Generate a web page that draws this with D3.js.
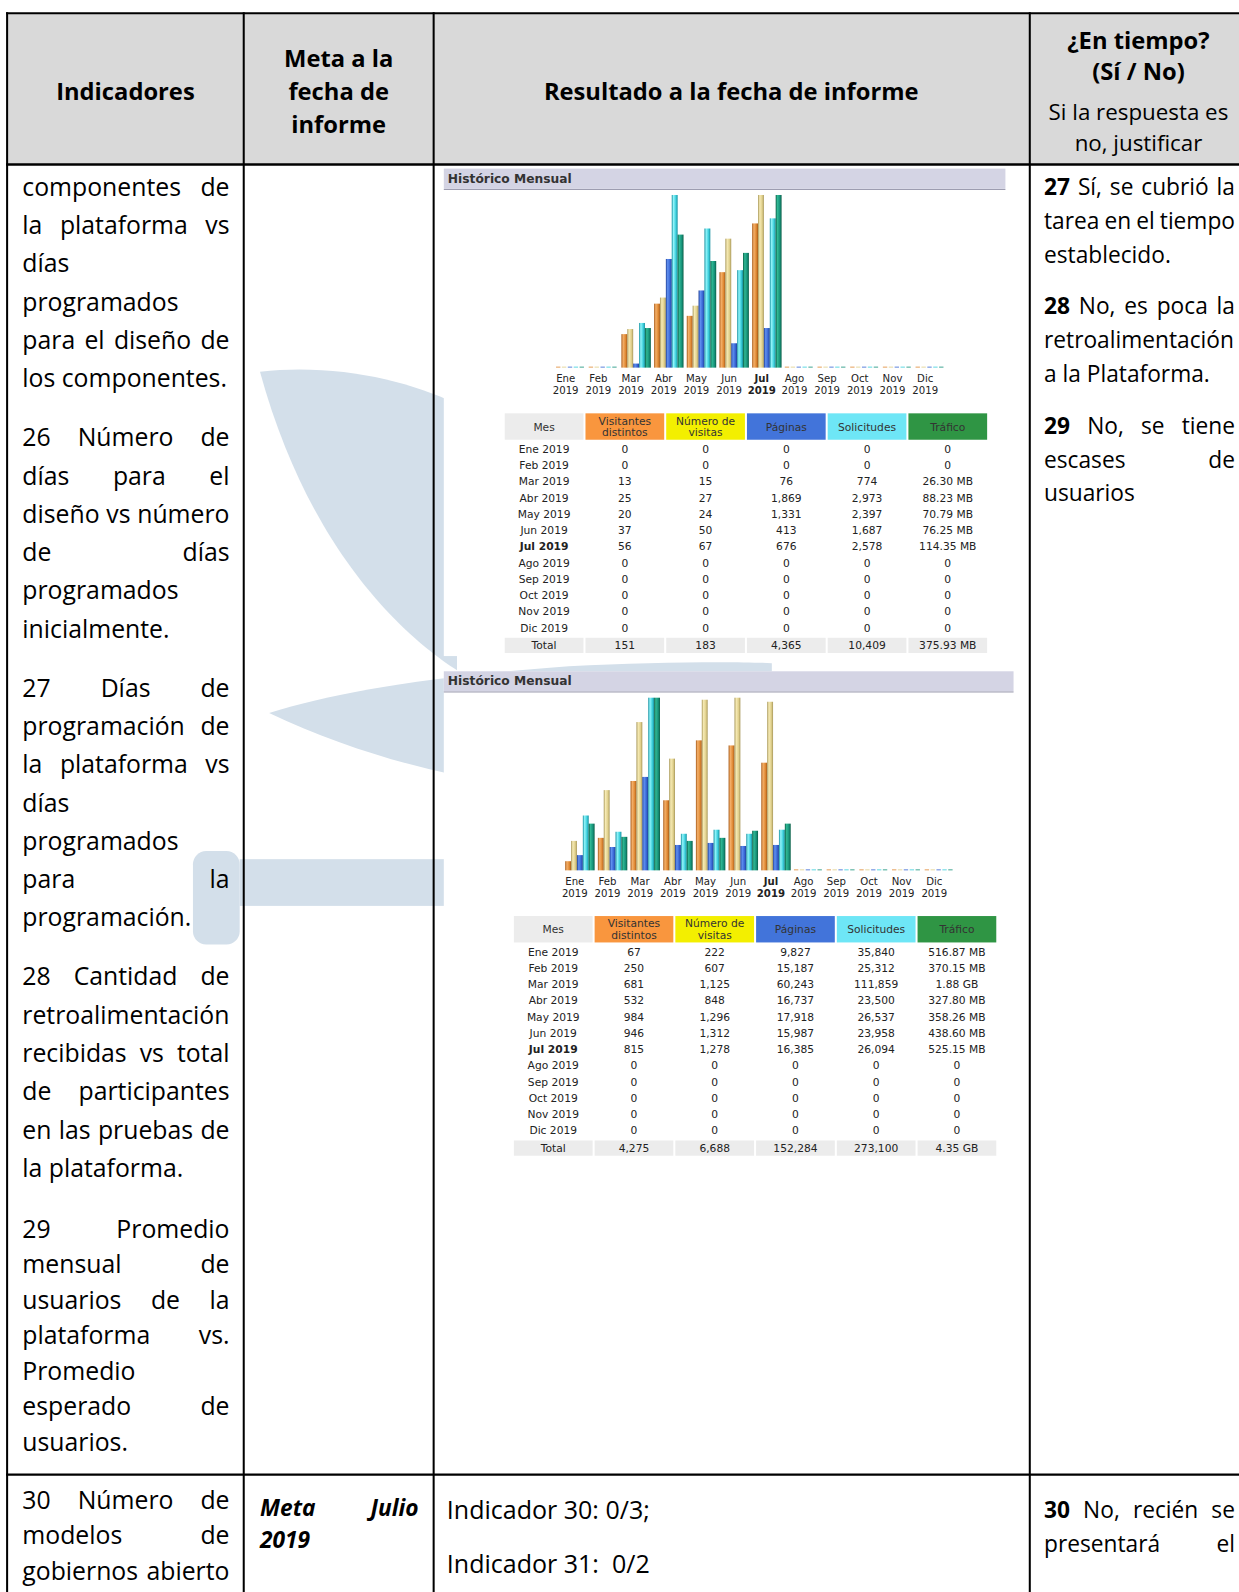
<!DOCTYPE html>
<html>
<head>
<meta charset="utf-8">
<script src="https://cdn.jsdelivr.net/npm/d3@7"></script>
<style>
  html, body { margin: 0; padding: 0; background: #fff; overflow: hidden; width: 1239px; height: 1592px; }
  svg { display: block; }
</style>
</head>
<body>
<svg id="page" width="1239" height="1592"></svg>
<script>
const months = ["Ene", "Feb", "Mar", "Abr", "May", "Jun", "Jul", "Ago", "Sep", "Oct", "Nov", "Dic"];
const year = "2019";
const currentMonth = "Jul";

// chart 1
const visitantes1  = [0, 0, 13, 25, 20, 37, 56, 0, 0, 0, 0, 0];
const visitas1     = [0, 0, 15, 27, 24, 50, 67, 0, 0, 0, 0, 0];
const paginas1     = [0, 0, 76, 1869, 1331, 413, 676, 0, 0, 0, 0, 0];
const solicitudes1 = [0, 0, 774, 2973, 2397, 1687, 2578, 0, 0, 0, 0, 0];
const trafico1     = [0, 0, 26.30, 88.23, 70.79, 76.25, 114.35, 0, 0, 0, 0, 0]; // MB
const totales1     = ["151", "183", "4,365", "10,409", "375.93 MB"];

// chart 2
const visitantes2  = [67, 250, 681, 532, 984, 946, 815, 0, 0, 0, 0, 0];
const visitas2     = [222, 607, 1125, 848, 1296, 1312, 1278, 0, 0, 0, 0, 0];
const paginas2     = [9827, 15187, 60243, 16737, 17918, 15987, 16385, 0, 0, 0, 0, 0];
const solicitudes2 = [35840, 25312, 111859, 23500, 26537, 23958, 26094, 0, 0, 0, 0, 0];
const trafico2     = [516.87, 370.15, 1925.12, 327.80, 358.26, 438.60, 525.15, 0, 0, 0, 0, 0]; // MB
const totales2     = ["4,275", "6,688", "152,284", "273,100", "4.35 GB"];

const seriesKeys = ["visitantes", "visitas", "paginas", "solicitudes", "trafico"];
const seriesHeads = [["Visitantes", "distintos"], ["Número de", "visitas"], ["Páginas"], ["Solicitudes"], ["Tráfico"]];

// ---- document text ----
const headCols = [
  { lines: ["Indicadores"] },
  { lines: ["Meta a la", "fecha de", "informe"] },
  { lines: ["Resultado a la fecha de informe"] }
];
const indicadores = [
  ["componentes de", "la plataforma vs", "días", "programados", "para el diseño de", "los componentes."],
  ["26 Número de", "días para el", "diseño vs número", "de días", "programados", "inicialmente."],
  ["27 Días de", "programación de", "la plataforma vs", "días", "programados", "para la", "programación."],
  ["28 Cantidad de", "retroalimentación", "recibidas vs total", "de participantes", "en las pruebas de", "la plataforma."]
];
const indicador29 = ["29 Promedio", "mensual de", "usuarios de la", "plataforma vs.", "Promedio", "esperado de", "usuarios."];
const respuestas = [
  ["**27** Sí, se cubrió la", "tarea en el tiempo", "establecido."],
  ["**28** No, es poca la", "retroalimentación", "a la Plataforma."],
  ["**29** No, se tiene", "escases de", "usuarios"]
];
const indicador30 = ["30 Número de", "modelos de", "gobiernos abierto"];
const meta30 = ["Meta Julio", "2019"];
const resultado30 = ["Indicador 30: 0/3;", "Indicador 31:  0/2"];
const respuesta30 = ["**30** No, recién se", "presentará el"];

const DOC = '"Open Sans", "Noto Sans", sans-serif';
const AW = '"DejaVu Sans", Verdana, sans-serif';

// layout below is measured on a 1220-wide copy of the page, so scale it up to 1239
const PAGE_SCALE = 1239 / 1220;

const root = d3.select("#page");
const meas = root.append("text").attr("visibility", "hidden");
const svg = root.append("g").attr("transform", `scale(${PAGE_SCALE})`);

function textW(str, font, size, weight, style) {
  meas.attr("font-family", font).attr("font-size", size)
    .attr("font-weight", weight || "normal").attr("font-style", style || "normal")
    .text(str);
  return meas.node().getComputedTextLength();
}
function fit(str, font, target, weight, style) {
  return 100 * target / textW(str, font, 100, weight, style);
}

// ---- page table: header + watermark ----
const colX = [7, 240, 427, 1014, 1230];
const headTop = 13, headBot = 162, row2 = 1452;

svg.append("rect").attr("x", colX[0]).attr("y", headTop)
  .attr("width", colX[4] - colX[0]).attr("height", headBot - headTop).attr("fill", "#d9d9d9");

const wm = svg.append("g").attr("fill", "#d3dfea");
wm.append("path").attr("d", "M256,366 C330,358 400,374 450,398 L450,660 C400,628 305,545 256,366 Z");
wm.append("path").attr("d", "M265,702 C330,682 420,666 560,656 C640,652 720,651 760,653 L760,790 C600,790 430,780 265,702 Z");
wm.append("rect").attr("x", 236).attr("y", 846).attr("width", 220).attr("height", 46);
wm.append("rect").attr("x", 190).attr("y", 838).attr("width", 46).attr("height", 92).attr("rx", 13);

// ---- AWStats style monthly history panels ----
const charts = [
  { x: 437, y: 166, w: 553, h: 480, dx: 0,
    series: { visitantes: visitantes1, visitas: visitas1, paginas: paginas1, solicitudes: solicitudes1, trafico: trafico1 },
    totals: totales1 },
  { x: 437, y: 661, w: 561, h: 482, dx: 9,
    series: { visitantes: visitantes2, visitas: visitas2, paginas: paginas2, solicitudes: solicitudes2, trafico: trafico2 },
    totals: totales2 }
];

const barColors = {
  visitantes:  ["#a85a18", "#f4b06a", "#e08a34"],
  visitas:     ["#a8985a", "#f6eab4", "#e0d08c"],
  paginas:     ["#1f3f98", "#6090f0", "#3866d4"],
  solicitudes: ["#1690a0", "#90f4fa", "#3ccfdc"],
  trafico:     ["#0a5e46", "#30b894", "#16927a"]
};
const headFill = { Mes: "#ececec", visitantes: "#f9963e", visitas: "#f3ef00", paginas: "#4274da", solicitudes: "#6ee6f6", trafico: "#2f9544" };

const defs = root.append("defs");
seriesKeys.forEach(k => {
  const gr = defs.append("linearGradient").attr("id", "g-" + k).attr("x1", 0).attr("x2", 1).attr("y1", 0).attr("y2", 0);
  gr.append("stop").attr("offset", 0).attr("stop-color", barColors[k][0]);
  gr.append("stop").attr("offset", 0.3).attr("stop-color", barColors[k][1]);
  gr.append("stop").attr("offset", 0.7).attr("stop-color", barColors[k][2]);
  gr.append("stop").attr("offset", 1).attr("stop-color", barColors[k][0]);
});

const fmtInt = d3.format(",");
function fmtMB(v) {
  if (v === 0) return "0";
  return v >= 1024 ? (v / 1024).toFixed(2) + " GB" : v.toFixed(2) + " MB";
}

const awTitle = fit("Histórico Mensual", AW, 122, "bold");
const awCell = fit("Ene 2019", AW, 50);
const awLabel = 10;

charts.forEach(c => {
  const g = svg.append("g").attr("transform", `translate(${c.x},${c.y})`).attr("font-family", AW);
  g.append("rect").attr("width", c.w).attr("height", c.h).attr("fill", "#fff");

  // title bar
  g.append("rect").attr("width", c.w).attr("height", 20).attr("fill", "#d4d4e4");
  g.append("line").attr("x1", 0).attr("x2", c.w).attr("y1", 20.5).attr("y2", 20.5).attr("stroke", "#9d9db0");
  g.append("text").attr("x", 4).attr("y", 14).attr("font-weight", "bold")
    .attr("font-size", awTitle).attr("fill", "#333").text("Histórico Mensual");

  // bars
  const base = 196, H = 170;
  const x = d3.scalePoint().domain(months).range([120 + c.dx, 474 + c.dx]);
  const sub = d3.scaleBand().domain(seriesKeys).range([-9.5, 19.5]);
  const yv = d3.scaleLinear().domain([0, d3.max(c.series.visitas)]).range([0, H]);
  const yh = d3.scaleLinear().domain([0, d3.max(c.series.solicitudes)]).range([0, H]);
  const yb = d3.scaleLinear().domain([0, d3.max(c.series.trafico)]).range([0, H]);
  const yFor = { visitantes: yv, visitas: yv, paginas: yh, solicitudes: yh, trafico: yb };

  const bars = months.flatMap((m, i) => seriesKeys.map(k => ({ m, k, v: c.series[k][i] })));
  g.append("g").selectAll("rect").data(bars).join("rect")
    .attr("x", d => x(d.m) + sub(d.k))
    .attr("width", d => d.v === 0 ? sub.bandwidth() - 1.5 : sub.bandwidth())
    .attr("height", d => Math.max(1, Math.round(yFor[d.k](d.v))))
    .attr("y", d => base - Math.max(1, Math.round(yFor[d.k](d.v))))
    .attr("fill", d => d.v === 0 ? barColors[d.k][2] : `url(#g-${d.k})`)
    .attr("opacity", d => d.v === 0 ? 0.8 : 1);

  const lab = g.append("g").attr("font-size", awLabel).attr("fill", "#222").attr("text-anchor", "middle");
  lab.selectAll("g").data(months).join("g")
    .attr("transform", d => `translate(${x(d)},0)`)
    .attr("font-weight", d => d === currentMonth ? "bold" : "normal")
    .each(function (d) {
      d3.select(this).append("text").attr("y", 210).text(d);
      d3.select(this).append("text").attr("y", 222).text(year);
    });

  // data table
  const cols = ["Mes", ...seriesKeys];
  const cx = d3.scaleBand().domain(cols).range([60 + c.dx, 535 + c.dx]).paddingInner(0.025);
  const head = g.append("g").attr("font-size", awCell).attr("fill", "#333").attr("text-anchor", "middle");
  head.selectAll("rect").data(cols).join("rect")
    .attr("x", d => cx(d)).attr("y", 241).attr("width", cx.bandwidth()).attr("height", 26)
    .attr("fill", d => headFill[d]);
  const headLines = { Mes: ["Mes"] };
  seriesKeys.forEach((k, i) => headLines[k] = seriesHeads[i]);
  cols.forEach(k => {
    const ls = headLines[k];
    ls.forEach((t, i) => {
      head.append("text").attr("x", cx(k) + cx.bandwidth() / 2)
        .attr("y", ls.length === 1 ? 258 : 252 + i * 11.5).text(t);
    });
  });

  const rowY = i => 280 + 16 * i;
  const body = g.append("g").attr("font-size", awCell).attr("fill", "#222").attr("text-anchor", "middle");
  months.forEach((m, i) => {
    const row = body.append("g").attr("font-weight", m === currentMonth ? "bold" : "normal");
    row.append("text").attr("x", cx("Mes") + cx.bandwidth() / 2).attr("y", rowY(i)).text(`${m} ${year}`);
    seriesKeys.forEach(k => {
      const v = c.series[k][i];
      body.append("text").attr("x", cx(k) + cx.bandwidth() / 2).attr("y", rowY(i))
        .text(k === "trafico" ? fmtMB(v) : fmtInt(v));
    });
  });
  const tot = g.append("g").attr("font-size", awCell).attr("fill", "#222").attr("text-anchor", "middle");
  tot.selectAll("rect").data(cols).join("rect")
    .attr("x", d => cx(d)).attr("y", 462).attr("width", cx.bandwidth()).attr("height", 15)
    .attr("fill", "#ececec");
  tot.selectAll("text").data(["Total", ...c.totals]).join("text")
    .attr("x", (d, i) => cx(cols[i]) + cx.bandwidth() / 2).attr("y", 473).text(d => d);
});

// ---- grid lines ----
const grid = svg.append("g").attr("stroke", "#000");
[headTop, headBot, row2].forEach((y, i) => {
  grid.append("line").attr("x1", colX[0] - 1).attr("x2", colX[4]).attr("y1", y).attr("y2", y)
    .attr("stroke-width", i === 1 ? 2.5 : 2);
});
colX.slice(0, 4).forEach(x => {
  grid.append("line").attr("x1", x).attr("x2", x).attr("y1", headTop - 1).attr("y2", 1580).attr("stroke-width", 2);
});

// ---- text helpers ----
function parseWords(line) {
  return line.split(" ").map(w => {
    const b = /^\*\*(.*)\*\*$/.exec(w);
    return b ? { t: b[1], bold: true } : { t: w, bold: false };
  });
}
function drawLine(g, line, x0, x1, y, size, justify, opt) {
  const weight = opt.weight || "normal", style = opt.style || "normal";
  const words = parseWords(line);
  if (justify && words.length > 1) {
    const ws = words.map(w => textW(w.t, DOC, size, w.bold ? "bold" : weight, style));
    const gap = (x1 - x0 - d3.sum(ws)) / (words.length - 1);
    let x = x0;
    words.forEach((w, i) => {
      g.append("text").attr("x", x).attr("y", y).attr("font-size", size)
        .attr("font-weight", w.bold ? "bold" : weight).attr("font-style", style).text(w.t);
      x += ws[i] + gap;
    });
  } else {
    const t = g.append("text").attr("x", x0).attr("y", y).attr("font-size", size)
      .attr("font-weight", weight).attr("font-style", style).style("white-space", "pre");
    words.forEach((w, i) => {
      t.append("tspan").attr("font-weight", w.bold ? "bold" : null).text((i ? " " : "") + w.t);
    });
  }
}
// paragraphs: y0 is the visual centre of the first line
function drawParas(g, paras, x0, x1, y0, lh, gap, size, opt) {
  opt = opt || {};
  let y = y0;
  paras.forEach(lines => {
    lines.forEach((ln, i) => {
      const last = i === lines.length - 1 && !opt.open;
      drawLine(g, ln, x0, x1, y + size * 0.36, size, !last, opt);
      y += lh;
    });
    y += gap;
  });
  return y;
}

const txt = svg.append("g").attr("font-family", DOC).attr("fill", "#000");

// header
const fHead = fit("Resultado a la fecha de informe", DOC, 369, "bold");
const fHeadR = fit("Si la respuesta es", DOC, 177);
const centers = [123.5, 333.5, 720];
headCols.forEach((h, i) => {
  const n = h.lines.length;
  h.lines.forEach((t, j) => {
    txt.append("text").attr("x", centers[i]).attr("y", 90 + (j - (n - 1) / 2) * 32.5 + fHead * 0.36)
      .attr("text-anchor", "middle").attr("font-weight", "bold").attr("font-size", fHead).text(t);
  });
});
[["¿En tiempo?", 40, "bold"], ["(Sí / No)", 71, "bold"], ["Si la respuesta es", 110, "normal"], ["no, justificar", 141, "normal"]]
  .forEach(([t, y, w]) => {
    txt.append("text").attr("x", 1121).attr("y", y + fHeadR * 0.36).attr("text-anchor", "middle")
      .attr("font-weight", w).attr("font-size", w === "bold" ? fHead : fHeadR).text(t);
  });

// body row 1
const fLeft = fit("retroalimentación", DOC, 204);
const fRight = fit("retroalimentación", DOC, 187);
drawParas(txt, indicadores, 22, 226, 184, 37.7, 20.4, fLeft);
drawParas(txt, [indicador29], 22, 226, 1210, 35, 0, fLeft);
drawParas(txt, respuestas, 1028, 1216, 184, 33.3, 17.6, fRight);

// body row 2
drawParas(txt, [indicador30], 22, 226, 1477, 35, 0, fLeft, { open: true });
drawParas(txt, [meta30], 256, 412, 1485, 31, 0, fRight, { weight: "bold", style: "italic" });
const fRes = fit("Indicador 30: 0/3;", DOC, 200);
resultado30.forEach((t, i) => drawLine(txt, t, 440, 1000, 1487 + i * 53 + fRes * 0.36, fRes, false, {}));
drawParas(txt, [respuesta30], 1028, 1216, 1487, 33.3, 0, fRight, { open: true });

meas.remove();
</script>
</body>
</html>
